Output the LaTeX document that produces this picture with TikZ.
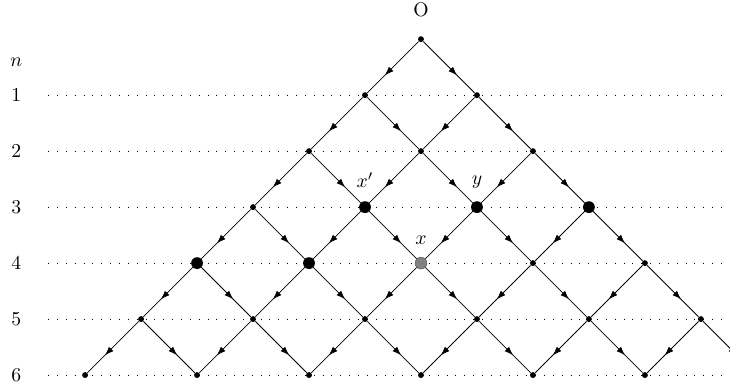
\documentclass[tikz,border=0pt]{standalone}
\usepackage{tikz}
\usepackage{amsmath}
\usepackage{xcolor}
\usetikzlibrary{arrows.meta,decorations.markings}

\tikzset{
    dot/.style={circle,fill=black,inner sep=0pt,minimum size=3pt},
    bigdot/.style={circle,fill=black,inner sep=0pt,minimum size=6pt},
    graydot/.style={circle,fill=gray,draw=black!60,line width=0.3pt,inner sep=0pt,minimum size=6pt},
    flow/.style={decoration={markings,mark=at position 0.66 with {\arrow{Latex[length=4.5pt,width=3.2pt]}}},postaction={decorate}},
    level/.style={loosely dotted,line width=0.5pt}
}

\begin{document}
\begin{tikzpicture}
    \path[use as bounding box,clip] (-7.52,0.70) rectangle (5.52,-6.21);

    % Levels
    \node (lvl) at (-7.23,-0.41) {$n$};
    \foreach \n in {1,...,6} {
        \node (lvl\n) at (-7.23,-\n) {\n};
        \draw[level] (-6.66,-\n) -- (5.6,-\n);
    }

    % Lattice points
    \foreach \n in {0,...,6} {
        \foreach \k in {0,...,\n} {
            \node[dot] (p\n\k) at ({2*\k-\n},-\n) {};
        }
    }

    % Edges
    \foreach \n in {0,...,5} {
        \pgfmathtruncatemacro{\m}{\n+1}
        \foreach \k in {0,...,\n} {
            \pgfmathtruncatemacro{\j}{\k+1}
            \draw[flow] (p\n\k) -- (p\m\k);
            \draw[flow] (p\n\k) -- (p\m\j);
        }
    }

    % Marked points
    \node[label={[label distance=4pt]above:O}] (orig) at (p00) {};
    \node[bigdot,label={[label distance=3pt]above:$x'$}] (xp) at (p31) {};
    \node[bigdot,label={[label distance=3pt]above:$y$}] (y) at (p32) {};
    \node[bigdot] (b33) at (p33) {};
    \node[bigdot] (b40) at (p40) {};
    \node[bigdot] (b41) at (p41) {};
    \node[graydot,label={[label distance=3pt]above:$x$}] (x) at (p42) {};
\end{tikzpicture}
\end{document}
